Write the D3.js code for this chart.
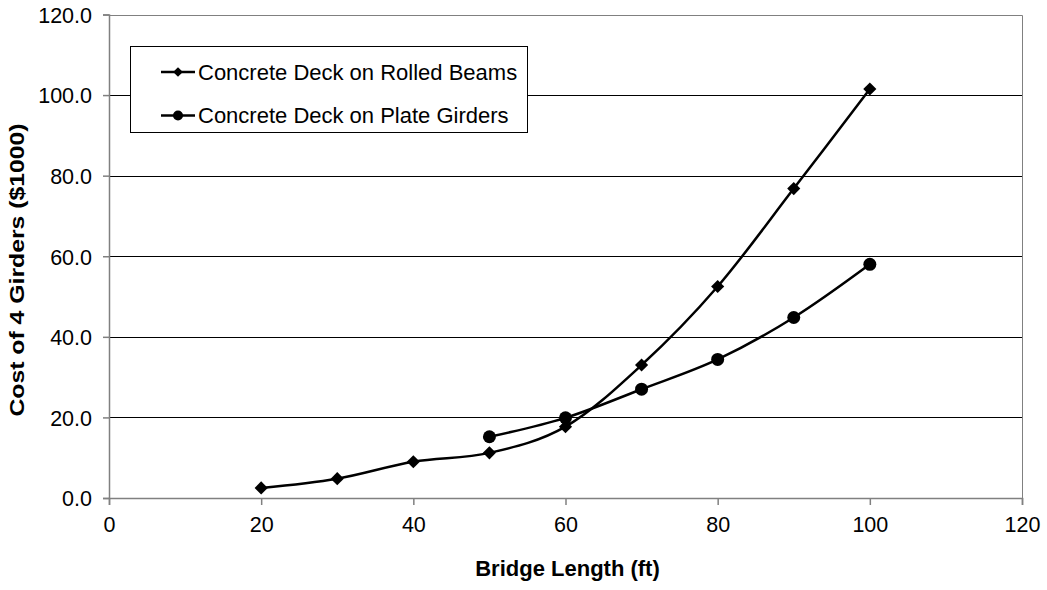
<!DOCTYPE html>
<html>
<head>
<meta charset="utf-8">
<script src="https://cdn.jsdelivr.net/npm/d3@7"></script>
<style>
  body { margin: 0; background: #fff; }
  text { font-family: Arial, "Liberation Sans", sans-serif; fill: #000; }
</style>
</head>
<body>
<svg id="chart" width="1047" height="590"></svg>
<script>
  // Data
  const rolledLength = [20, 30, 40, 50, 60, 70, 80, 90, 100];
  const rolledCost = [2.5, 4.8, 9.0, 11.2, 17.7, 33.0, 52.5, 76.8, 101.5];
  const plateLength = [50, 60, 70, 80, 90, 100];
  const plateCost = [15.2, 19.9, 27.0, 34.4, 44.8, 58.0];
  const xTicks = [0, 20, 40, 60, 80, 100, 120];
  const yTicks = [0, 20, 40, 60, 80, 100, 120];
  const seriesNames = ["Concrete Deck on Rolled Beams", "Concrete Deck on Plate Girders"];

  const svg = d3.select("#chart");
  const plotL = 109, plotR = 1022, plotT = 14.5, plotB = 498;

  const x = d3.scaleLinear().domain([0, 120]).range([plotL, plotR]);
  const y = d3.scaleLinear().domain([0, 120]).range([plotB, plotT]);

  // Gridlines
  svg.append("g").selectAll("line")
    .data(yTicks.filter(d => d > 0 && d < 120))
    .join("line")
    .attr("x1", plotL).attr("x2", plotR)
    .attr("y1", d => Math.round(y(d)) + 0.5).attr("y2", d => Math.round(y(d)) + 0.5)
    .attr("stroke", "#000").attr("stroke-width", 1);

  // Plot border (top + right)
  svg.append("path")
    .attr("d", `M${plotL},${Math.round(plotT) + 0.5}H${plotR + 0.5}V${plotB}`)
    .attr("fill", "none").attr("stroke", "#808080").attr("stroke-width", 1);

  // Axes
  const xAxis = svg.append("g")
    .attr("transform", `translate(0,${plotB})`)
    .call(d3.axisBottom(x).tickValues(xTicks).tickSize(7).tickPadding(12).tickFormat(d3.format("d")));
  const yAxis = svg.append("g")
    .attr("transform", `translate(${plotL},0)`)
    .call(d3.axisLeft(y).tickValues(yTicks).tickSize(6).tickPadding(11).tickFormat(d3.format(".1f")));

  [xAxis, yAxis].forEach(a => {
    a.select(".domain").attr("stroke", "#808080").attr("stroke-width", 1.5);
    a.selectAll(".tick line").attr("stroke", "#808080").attr("stroke-width", 1.5);
    a.selectAll(".tick text")
      .attr("font-family", "Arial, 'Liberation Sans', sans-serif")
      .attr("font-size", 21.5).attr("fill", "#000");
  });
  yAxis.selectAll(".tick text").attr("dy", "0.36em");

  // Axis titles
  svg.append("text")
    .attr("x", (plotL + plotR) / 2 + 2).attr("y", 576)
    .attr("text-anchor", "middle")
    .attr("font-size", 22).attr("font-weight", 700)
    .text("Bridge Length (ft)");

  svg.append("text")
    .attr("transform", "translate(24,270) rotate(-90) scale(1.18,1)")
    .attr("text-anchor", "middle")
    .attr("font-size", 21).attr("font-weight", 700)
    .text("Cost of 4 Girders ($1000)");

  // Lines
  const line = d3.line().curve(d3.curveCardinal.tension(0))
    .x(d => x(d[0])).y(d => y(d[1]));

  const rolled = rolledLength.map((d, i) => [d, rolledCost[i]]);
  const plate = plateLength.map((d, i) => [d, plateCost[i]]);

  svg.append("path").datum(rolled).attr("d", line)
    .attr("fill", "none").attr("stroke", "#000").attr("stroke-width", 2.5);
  svg.append("path").datum(plate).attr("d", line)
    .attr("fill", "none").attr("stroke", "#000").attr("stroke-width", 2.5);

  const diamond = d3.symbol().type(d3.symbolDiamond2).size(110);
  svg.append("g").selectAll("path")
    .data(rolled).join("path")
    .attr("transform", d => `translate(${x(d[0])},${y(d[1])})`)
    .attr("d", diamond).attr("fill", "#000");

  svg.append("g").selectAll("circle")
    .data(plate).join("circle")
    .attr("cx", d => x(d[0])).attr("cy", d => y(d[1]))
    .attr("r", 6.5).attr("fill", "#000");

  // Legend
  const lg = svg.append("g");
  lg.append("rect")
    .attr("x", 130.5).attr("y", 46.5).attr("width", 397).attr("height", 86)
    .attr("fill", "#fff").attr("stroke", "#000").attr("stroke-width", 1);

  seriesNames.forEach((name, i) => {
    const cy = 72 + i * 43.5;
    lg.append("line")
      .attr("x1", 161).attr("x2", 195).attr("y1", cy).attr("y2", cy)
      .attr("stroke", "#000").attr("stroke-width", 2.5);
    if (i === 0) {
      lg.append("path")
        .attr("transform", `translate(178,${cy})`)
        .attr("d", d3.symbol().type(d3.symbolDiamond2).size(60))
        .attr("fill", "#000");
    } else {
      lg.append("circle").attr("cx", 178).attr("cy", cy).attr("r", 5).attr("fill", "#000");
    }
    lg.append("text")
      .attr("x", 198).attr("y", cy).attr("dy", "0.36em")
      .attr("font-size", 22)
      .text(name);
  });
</script>
</body>
</html>
